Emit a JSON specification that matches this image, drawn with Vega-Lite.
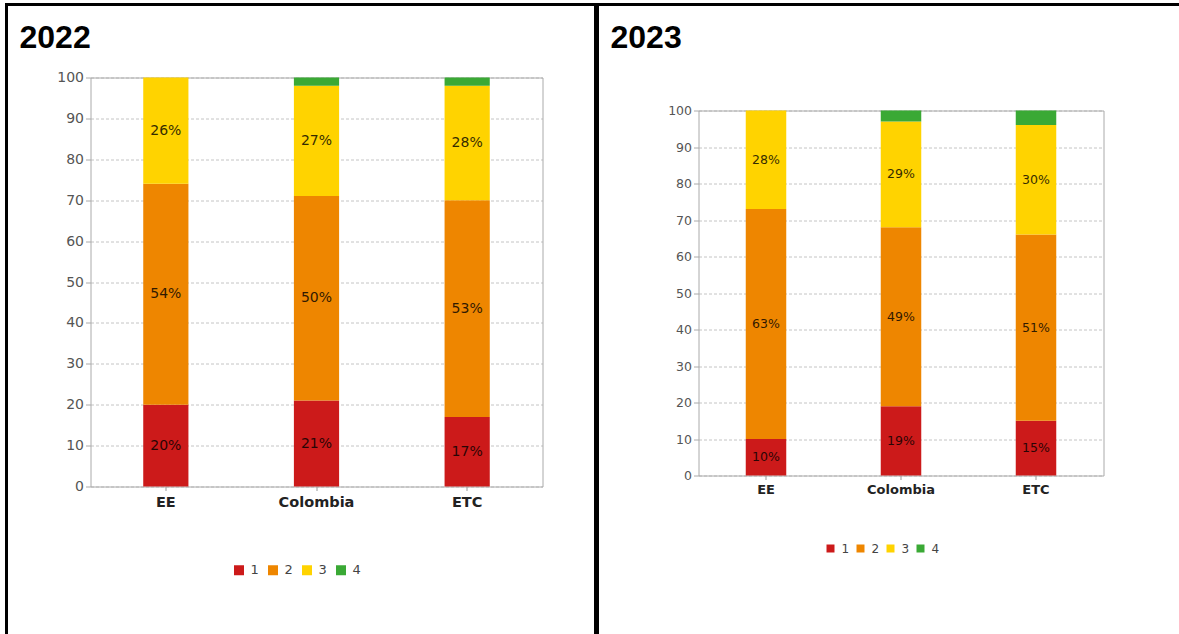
{
  "$schema": "https://vega.github.io/schema/vega-lite/v6.json",
  "background": "white",
  "padding": {"left": 4.5, "top": 2.5, "right": 0, "bottom": 0},
  "spacing": -4.5,
  "datasets": {
    "d": [
      {"year": 2022, "cat": "EE", "level": "1", "value": 20, "label": "20%"},
      {"year": 2022, "cat": "EE", "level": "2", "value": 54, "label": "54%"},
      {"year": 2022, "cat": "EE", "level": "3", "value": 26, "label": "26%"},
      {"year": 2022, "cat": "EE", "level": "4", "value": 0, "label": ""},
      {"year": 2022, "cat": "Colombia", "level": "1", "value": 21, "label": "21%"},
      {"year": 2022, "cat": "Colombia", "level": "2", "value": 50, "label": "50%"},
      {"year": 2022, "cat": "Colombia", "level": "3", "value": 27, "label": "27%"},
      {"year": 2022, "cat": "Colombia", "level": "4", "value": 2, "label": ""},
      {"year": 2022, "cat": "ETC", "level": "1", "value": 17, "label": "17%"},
      {"year": 2022, "cat": "ETC", "level": "2", "value": 53, "label": "53%"},
      {"year": 2022, "cat": "ETC", "level": "3", "value": 28, "label": "28%"},
      {"year": 2022, "cat": "ETC", "level": "4", "value": 2, "label": ""},
      {"year": 2023, "cat": "EE", "level": "1", "value": 10, "label": "10%"},
      {"year": 2023, "cat": "EE", "level": "2", "value": 63, "label": "63%"},
      {"year": 2023, "cat": "EE", "level": "3", "value": 27, "label": "28%"},
      {"year": 2023, "cat": "EE", "level": "4", "value": 0, "label": ""},
      {"year": 2023, "cat": "Colombia", "level": "1", "value": 19, "label": "19%"},
      {"year": 2023, "cat": "Colombia", "level": "2", "value": 49, "label": "49%"},
      {"year": 2023, "cat": "Colombia", "level": "3", "value": 29, "label": "29%"},
      {"year": 2023, "cat": "Colombia", "level": "4", "value": 3, "label": ""},
      {"year": 2023, "cat": "ETC", "level": "1", "value": 15, "label": "15%"},
      {"year": 2023, "cat": "ETC", "level": "2", "value": 51, "label": "51%"},
      {"year": 2023, "cat": "ETC", "level": "3", "value": 30, "label": "30%"},
      {"year": 2023, "cat": "ETC", "level": "4", "value": 4, "label": ""}
    ]
  },
  "resolve": {
    "scale": {"color": "independent", "x": "independent", "y": "independent"},
    "legend": {"color": "independent"}
  },
  "config": {
    "view": {"stroke": "#000000", "strokeWidth": 3},
    "axis": {"title": null}
  },
  "hconcat": [
    {
      "width": 589,
      "height": 640,
      "title": {"text": "2022", "anchor": "start", "frame": "group", "orient": "top", "offset": -75, "dx": 13, "baseline": "alphabetic", "font": "Liberation Sans", "fontSize": 32, "fontWeight": "bold", "color": "#000000"},
      "data": {"name": "d"},
      "transform": [{"filter": "datum.year == 2022"}],
      "resolve": {"axis": {"x": "independent", "y": "independent"}},
      "layer": [
        {
          "mark": {"type": "bar", "width": {"band": 0.3}},
          "encoding": {
            "x": {"field": "cat", "type": "nominal", "sort": ["EE", "Colombia", "ETC"],
              "scale": {"type": "band", "range": [84, 536], "paddingInner": 0, "paddingOuter": 0},
              "axis": {"orient": "bottom", "offset": -158, "labelAngle": 0, "labelFont": "DejaVu Sans", "labelFontWeight": "bold", "labelFontSize": 14.5, "labelColor": "#222222", "labelPadding": 5, "tickSize": 4, "tickColor": "#999999", "domainColor": "#aaaaaa", "grid": false}},
            "y": {"field": "value", "type": "quantitative", "stack": "zero",
              "scale": {"domain": [0, 100], "range": [482, 73], "nice": false},
              "axis": {"orient": "left", "offset": -84, "values": [0, 10, 20, 30, 40, 50, 60, 70, 80, 90, 100], "labelFont": "DejaVu Sans", "labelFontSize": 14, "labelColor": "#555555", "labelPadding": 2, "tickSize": 5, "tickColor": "#aaaaaa", "domainColor": "#aaaaaa", "grid": true, "gridColor": "#c4c4c4", "gridDash": [3, 2]}},
            "color": {"field": "level", "type": "nominal",
              "scale": {"domain": ["1", "2", "3", "4"], "range": ["#CC1A1A", "#EE8600", "#FFD300", "#3AA935"]},
              "legend": {"orient": "none", "legendX": 226, "legendY": 559, "direction": "horizontal", "title": null, "symbolType": "square", "symbolSize": 100, "symbolStrokeWidth": 0, "labelFont": "DejaVu Sans", "labelFontSize": 13, "labelColor": "#444444", "labelOffset": 5, "columnPadding": 7}},
            "order": {"field": "level", "sort": "ascending"}
          }
        },
        {
          "mark": {"type": "text", "font": "DejaVu Sans", "fontSize": 14, "color": "#000000", "opacity": 0.8},
          "encoding": {
            "x": {"field": "cat", "type": "nominal", "sort": ["EE", "Colombia", "ETC"],
              "axis": {"orient": "top", "offset": -73, "labels": false, "ticks": false, "domainColor": "#aaaaaa", "grid": false}},
            "y": {"field": "value", "type": "quantitative", "stack": "zero", "bandPosition": 0.5,
              "axis": {"orient": "right", "offset": -53, "labels": false, "ticks": false, "domainColor": "#aaaaaa", "grid": false}},
            "detail": {"field": "level"},
            "order": {"field": "level", "sort": "ascending"},
            "text": {"field": "label"}
          }
        }
      ]
    },
    {
      "width": 585,
      "height": 640,
      "title": {"text": "2023", "anchor": "start", "frame": "group", "orient": "top", "offset": -75, "dx": 13, "baseline": "alphabetic", "font": "Liberation Sans", "fontSize": 32, "fontWeight": "bold", "color": "#000000"},
      "data": {"name": "d"},
      "transform": [{"filter": "datum.year == 2023"}],
      "resolve": {"axis": {"x": "independent", "y": "independent"}},
      "layer": [
        {
          "mark": {"type": "bar", "width": {"band": 0.3}},
          "encoding": {
            "x": {"field": "cat", "type": "nominal", "sort": ["EE", "Colombia", "ETC"],
              "scale": {"type": "band", "range": [101, 506], "paddingInner": 0, "paddingOuter": 0},
              "axis": {"orient": "bottom", "offset": -169, "labelAngle": 0, "labelFont": "DejaVu Sans", "labelFontWeight": "bold", "labelFontSize": 13, "labelColor": "#222222", "labelPadding": 4, "tickSize": 4, "tickColor": "#999999", "domainColor": "#aaaaaa", "grid": false}},
            "y": {"field": "value", "type": "quantitative", "stack": "zero",
              "scale": {"domain": [0, 100], "range": [471, 106], "nice": false},
              "axis": {"orient": "left", "offset": -101, "values": [0, 10, 20, 30, 40, 50, 60, 70, 80, 90, 100], "labelFont": "DejaVu Sans", "labelFontSize": 12.5, "labelColor": "#555555", "labelPadding": 2, "tickSize": 5, "tickColor": "#aaaaaa", "domainColor": "#aaaaaa", "grid": true, "gridColor": "#c4c4c4", "gridDash": [3, 2]}},
            "color": {"field": "level", "type": "nominal",
              "scale": {"domain": ["1", "2", "3", "4"], "range": ["#CC1A1A", "#EE8600", "#FFD300", "#3AA935"]},
              "legend": {"orient": "none", "legendX": 227, "legendY": 538, "direction": "horizontal", "title": null, "symbolType": "square", "symbolSize": 64, "symbolStrokeWidth": 0, "labelFont": "DejaVu Sans", "labelFontSize": 12, "labelColor": "#444444", "labelOffset": 5, "columnPadding": 5}},
            "order": {"field": "level", "sort": "ascending"}
          }
        },
        {
          "mark": {"type": "text", "font": "DejaVu Sans", "fontSize": 12.5, "color": "#000000", "opacity": 0.8},
          "encoding": {
            "x": {"field": "cat", "type": "nominal", "sort": ["EE", "Colombia", "ETC"],
              "axis": {"orient": "top", "offset": -106, "labels": false, "ticks": false, "domainColor": "#aaaaaa", "grid": false}},
            "y": {"field": "value", "type": "quantitative", "stack": "zero", "bandPosition": 0.5,
              "axis": {"orient": "right", "offset": -79, "labels": false, "ticks": false, "domainColor": "#aaaaaa", "grid": false}},
            "detail": {"field": "level"},
            "order": {"field": "level", "sort": "ascending"},
            "text": {"field": "label"}
          }
        }
      ]
    }
  ]
}
